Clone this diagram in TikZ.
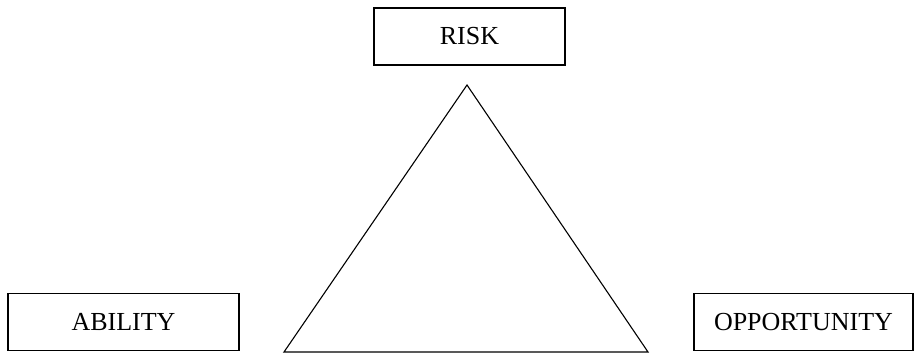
\documentclass[tikz,border=0pt]{standalone}
\usepackage{fontspec}
\setmainfont{Liberation Serif}
\usetikzlibrary{positioning}
\begin{document}
\begin{tikzpicture}[x=1pt,y=-1pt,line width=1.1pt,
	box/.style={draw, rectangle, inner sep=0pt, minimum height=57pt, font=\fontsize{26}{29}\selectfont}]
			\useasboundingbox (0,0) rectangle (917,353);
			\node[box, minimum width=191pt] (risk) at (469.5,36.5) {RISK};
			\node[box, minimum width=231pt] (ability) at (123.5,322) {ABILITY};
			\node[box, minimum width=219pt] (opp) at (803.5,322) {OPPORTUNITY};
			\coordinate (top) at (467,85);
			\coordinate (left) at (284,352);
			\coordinate (right) at (648,352);
			\draw (top) -- (left) -- (right) -- cycle;
		\end{tikzpicture}
\end{document}
